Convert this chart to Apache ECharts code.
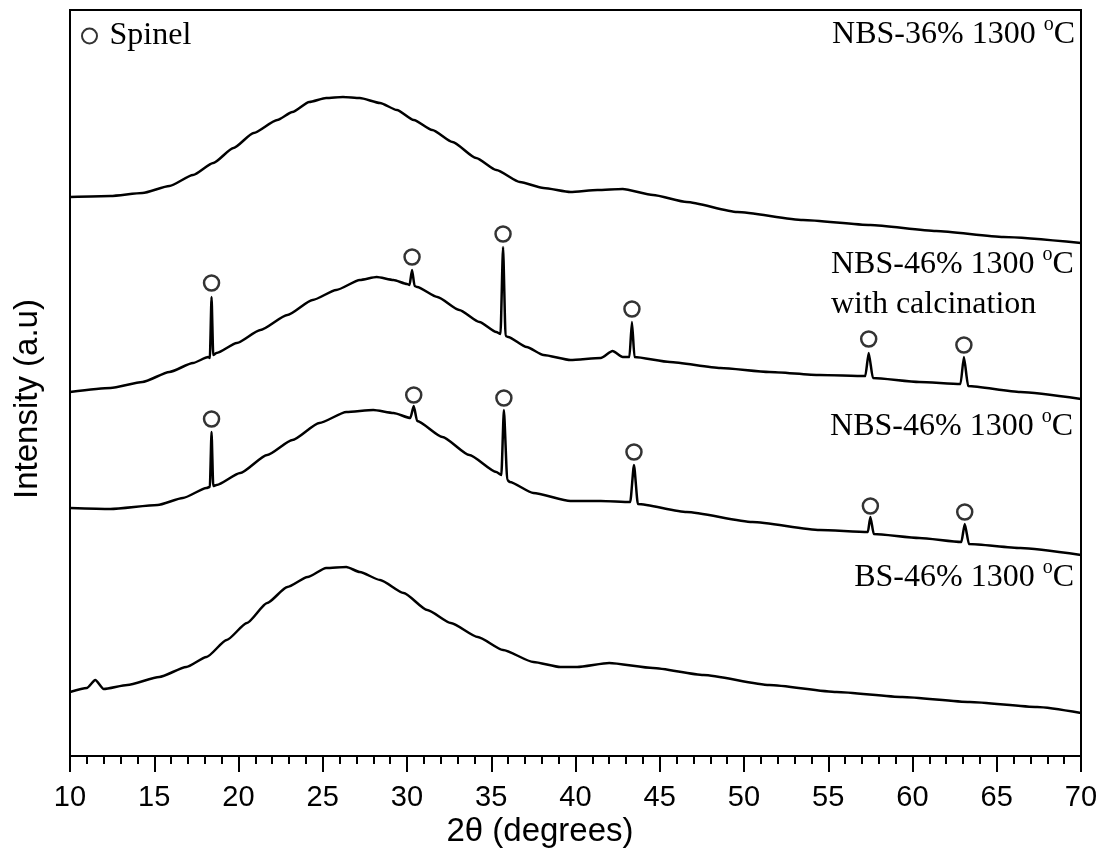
<!DOCTYPE html>
<html><head><meta charset="utf-8">
<script src="https://cdn.jsdelivr.net/npm/echarts@6/dist/echarts.min.js"></script>
<style>html,body{margin:0;padding:0;background:#fff}#c{width:1108px;height:861px}</style>
</head><body><div id="c"></div><script>
// 2θ tick labels
const xTicks = [10, 15, 20, 25, 30, 35, 40, 45, 50, 55, 60, 65, 70];

// NBS-36% 1300 °C (top trace)
const theta36 = [10, 12.4, 14.3, 15.9, 17.3, 18.5, 19.7, 20.9, 22.3, 23.2, 24.2, 25.2, 26.2, 27.2, 28.4, 29.4, 30.4, 31.5, 32.7, 34.1, 35.3, 36.7, 38.1, 39.7, 41.3, 42.8, 44.6, 46.6, 49.6, 53.5, 57.5, 61.4, 65.4, 70];
const int36 = [559, 560, 563, 570, 581, 593, 608, 623, 636, 644, 654, 658, 659, 658, 653, 646, 636, 626, 614, 598, 586, 574, 568, 564, 566, 567, 561, 554, 544, 536, 531, 525, 519, 513];

// NBS-46% 1300 °C with calcination
const theta46c = [10, 12.4, 14.3, 15.9, 17.3, 18.2, 18.3, 18.4, 18.5, 18.7, 19.9, 21.3, 22.9, 24.4, 25.8, 27.2, 28.2, 29.2, 30.0, 30.15, 30.3, 30.45, 30.6, 31.8, 33.1, 34.3, 35.3, 35.55, 35.7, 35.85, 36.0, 37.1, 38.1, 39.7, 41.5, 42.2, 42.8, 43.2, 43.35, 43.5, 45.6, 48.6, 51.5, 54.5, 57.2, 57.4, 57.65, 60.4, 62.85, 63.05, 63.3, 66.4, 70];
const int46c = [364, 368, 374, 384, 393, 399, 398, 459, 401, 403, 413, 426, 441, 456, 466, 476, 479, 476, 472, 471, 486, 470, 469, 459, 446, 434, 424, 422, 509, 420, 419, 409, 401, 396, 398, 405, 399, 399, 434, 399, 394, 388, 384, 381, 380, 403, 378, 374, 372, 399, 370, 364, 357];

// NBS-46% 1300 °C
const theta46 = [10, 12.4, 15.2, 16.7, 18.1, 18.3, 18.4, 18.5, 18.7, 20.1, 21.7, 23.2, 24.8, 26.4, 28.0, 29.2, 30.2, 30.4, 30.6, 32.1, 33.7, 35.3, 35.6, 35.75, 35.95, 36.1, 37.5, 39.7, 41.5, 43.25, 43.47, 43.7, 46.6, 50.5, 54.5, 57.35, 57.5, 57.7, 60.4, 62.9, 63.1, 63.35, 66.4, 70];
const int46 = [248, 247, 251, 258, 268, 269, 324, 270, 271, 283, 301, 316, 333, 344, 346, 343, 338, 350, 335, 319, 301, 284, 281, 346, 276, 274, 263, 255, 255, 254, 291, 252, 244, 234, 226, 224, 239, 222, 218, 214, 232, 212, 208, 201];

// BS-46% 1300 °C (bottom trace)
const thetaBS = [10, 11.0, 11.5, 12.0, 13.4, 15.3, 16.9, 18.1, 19.3, 20.5, 21.7, 22.9, 24.1, 25.2, 26.4, 27.2, 28.4, 29.8, 31.2, 32.6, 34.2, 35.7, 37.5, 39.1, 40.1, 42.0, 44.6, 47.6, 51.5, 55.5, 59.4, 63.4, 67.4, 70];
const intBS = [64, 68, 76, 67, 71, 79, 89, 99, 116, 133, 153, 169, 179, 188, 189, 184, 176, 163, 146, 133, 119, 106, 94, 89, 89, 93, 88, 81, 71, 64, 59, 54, 49, 43];

// Spinel markers (open circles above the peaks)
const spinelTheta = [18.4, 30.3, 35.7, 43.35, 57.4, 63.05, 18.4, 30.4, 35.75, 43.47, 57.5, 63.1];
const spinelInt = [473, 499, 522, 447, 417, 411, 337, 361, 358, 304, 250, 244];

const zip = (a, b) => a.map((v, i) => [v, b[i]]);
const serif = 'Liberation Serif';
const sans = 'Liberation Sans';

const chart = echarts.init(document.getElementById('c'), null, {renderer: 'canvas'});

const lineSeries = (name, xs, ys) => ({
  name, type: 'line', data: zip(xs, ys), showSymbol: false, symbol: 'none',
  smooth: 0.2, smoothMonotone: 'x',
  lineStyle: {color: '#000', width: 2.5, join: 'round'}, z: 2, silent: true
});

const rich = {
  a: {fontFamily: serif, fontSize: 32, lineHeight: 40, color: '#000'},
  s: {fontFamily: serif, fontSize: 20, lineHeight: 22, color: '#000', verticalAlign: 'top'}
};

chart.setOption({
  animation: false,
  backgroundColor: '#fff',
  grid: {left: 70, right: 27, top: 10, bottom: 105, show: true, borderColor: '#000', borderWidth: 2, backgroundColor: 'transparent'},
  legend: {
    data: ['Spinel'], left: 76, top: 15, itemWidth: 28, itemHeight: 15,
    textStyle: {fontFamily: serif, fontSize: 32, color: '#000', padding: [0, 0, 0, 1]}
  },
  xAxis: {
    type: 'value', min: xTicks[0], max: xTicks[xTicks.length - 1], interval: 5,
    axisLine: {show: true, lineStyle: {color: '#000', width: 2}},
    axisTick: {show: true, length: 16, inside: false, lineStyle: {color: '#000', width: 2}},
    minorTick: {show: true, splitNumber: 5, length: 8, lineStyle: {color: '#000', width: 2}},
    axisLabel: {fontFamily: sans, fontSize: 29, color: '#000', margin: 27},
    splitLine: {show: false}
  },
  yAxis: {
    type: 'value', min: 0, max: 746,
    axisLine: {show: true, lineStyle: {color: '#000', width: 2}},
    axisTick: {show: false}, axisLabel: {show: false}, splitLine: {show: false}
  },
  series: [
    lineSeries('NBS-36% 1300 °C', theta36, int36),
    lineSeries('NBS-46% 1300 °C with calcination', theta46c, int46c),
    lineSeries('NBS-46% 1300 °C', theta46, int46),
    lineSeries('BS-46% 1300 °C', thetaBS, intBS),
    {
      name: 'Spinel', type: 'scatter', data: zip(spinelTheta, spinelInt),
      symbol: 'circle', symbolSize: 15, z: 5,
      itemStyle: {color: '#fff', borderColor: '#000', borderWidth: 2.5}
    }
  ],
  graphic: [
    {type: 'text', x: 1075, y: 35, style: {text: '{a|NBS-36% 1300 }{s|o}{a|C}', rich, align: 'right', verticalAlign: 'middle'}},
    {type: 'text', x: 831, y: 245, style: {text: '{a|NBS-46% 1300 }{s|o}{a|C}\n{a|with calcination}', rich, align: 'left', verticalAlign: 'top'}},
    {type: 'text', x: 1073, y: 427, style: {text: '{a|NBS-46% 1300 }{s|o}{a|C}', rich, align: 'right', verticalAlign: 'middle'}},
    {type: 'text', x: 1074, y: 578, style: {text: '{a|BS-46% 1300 }{s|o}{a|C}', rich, align: 'right', verticalAlign: 'middle'}},
    {type: 'text', x: 540, y: 832, style: {text: '2θ (degrees)', fontFamily: sans, fontSize: 33, fill: '#000', align: 'center', verticalAlign: 'middle'}},
    {type: 'text', x: 28, y: 399, rotation: Math.PI / 2, style: {text: 'Intensity (a.u)', fontFamily: sans, fontSize: 33, fill: '#000', align: 'center', verticalAlign: 'middle'}}
  ]
});
</script></body></html>
